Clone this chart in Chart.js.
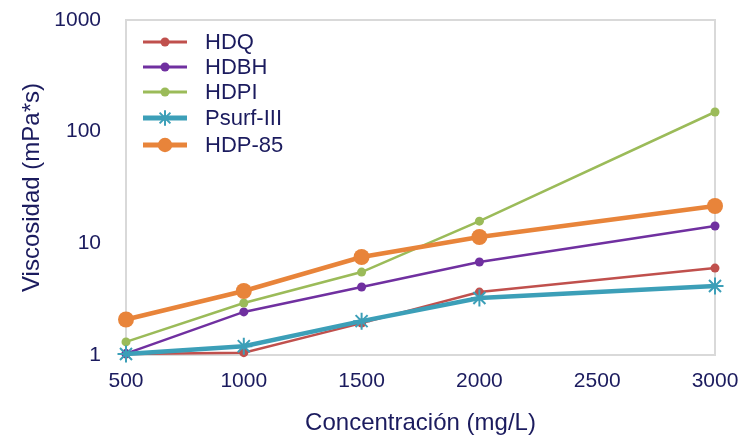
<!DOCTYPE html>
<html>
<head>
<meta charset="utf-8">
<script src="https://cdn.jsdelivr.net/npm/chart.js@4/dist/chart.umd.min.js"></script>
<style>
  html, body { margin: 0; padding: 0; background: #ffffff; }
  #wrap { width: 741px; height: 438px; }
</style>
</head>
<body>
<div id="wrap"><canvas id="c" width="741" height="438"></canvas></div>
<script>
// Concentration (mg/L) at which viscosity was measured
const concentrations = [500, 1000, 1500, 2000, 3000];

// Viscosity (mPa*s) per surfactant
const hdq     = [1.02, 1.05, 1.93, 3.66, 6.0];
const hdbh    = [1.03, 2.43, 4.06, 6.8, 14.3];
const hdpi    = [1.31, 2.92, 5.53, 15.8, 150];
const psurf   = [1.02, 1.2, 2.01, 3.24, 4.15];
const hdp85   = [2.08, 3.74, 7.54, 11.4, 21.6];

const seriesNames = ['HDQ', 'HDBH', 'HDPI', 'Psurf-III', 'HDP-85'];
const yTickValues = [1, 10, 100, 1000];
const xTickStep = 500;

const TEXT = '#1b1b5e';
const FONT = "'Liberation Sans', Arial, sans-serif";

const toPoints = arr => arr.map((v, i) => ({ x: concentrations[i], y: v }));

const styles = [
  { color: '#c0504d', width: 2.5, radius: 4.5, style: 'circle' },
  { color: '#7030a0', width: 2.5, radius: 4.5, style: 'circle' },
  { color: '#9bbb59', width: 2.5, radius: 4.5, style: 'circle' },
  { color: '#3c9fb8', width: 4.5, radius: 8.5, style: 'star' },
  { color: '#e8843a', width: 4.5, radius: 8,   style: 'circle' }
];
const values = [hdq, hdbh, hdpi, psurf, hdp85];

const datasets = values.map((vals, i) => {
  const s = styles[i];
  return {
    label: seriesNames[i],
    data: toPoints(vals),
    borderColor: s.color,
    backgroundColor: s.color,
    borderWidth: s.width,
    pointStyle: s.style,
    pointRadius: s.radius,
    pointHoverRadius: s.radius,
    pointBorderWidth: s.style === 'star' ? 2 : 0,
    pointBorderColor: s.color,
    pointBackgroundColor: s.color,
    tension: 0,
    clip: false,
    order: values.length - i
  };
});

// Light grey frame around the plotting area
const framePlugin = {
  id: 'frame',
  beforeDatasetsDraw(chart) {
    const { ctx, chartArea: a } = chart;
    ctx.save();
    ctx.strokeStyle = '#d9d9d9';
    ctx.lineWidth = 2;
    ctx.strokeRect(a.left, a.top, a.right - a.left, a.bottom - a.top);
    ctx.restore();
  }
};

// Legend drawn inside the plotting area, top-left corner
const insideLegend = {
  id: 'insideLegend',
  afterDatasetsDraw(chart) {
    const { ctx, chartArea: a } = chart;
    const rowY = [22, 47, 72, 98, 125];
    const x0 = a.left + 17, x1 = a.left + 61, xm = (x0 + x1) / 2;
    ctx.save();
    chart.data.datasets.forEach((ds, i) => {
      const y = a.top + rowY[i];
      ctx.strokeStyle = ds.borderColor;
      ctx.fillStyle = ds.backgroundColor;
      ctx.lineWidth = ds.borderWidth + 0.5;
      ctx.lineCap = 'butt';
      ctx.beginPath();
      ctx.moveTo(x0, y);
      ctx.lineTo(x1, y);
      ctx.stroke();
      const star = ds.pointStyle === 'star';
      ctx.lineWidth = star ? 2 : 0;
      Chart.helpers.drawPoint(ctx, {
        pointStyle: ds.pointStyle,
        rotation: 0,
        radius: ds.pointRadius * (ds.pointRadius > 6 ? 0.9 : 1),
        borderWidth: star ? 2 : 0
      }, xm, y);
      ctx.fillStyle = TEXT;
      ctx.font = "22px " + FONT;
      ctx.textBaseline = 'middle';
      ctx.textAlign = 'left';
      ctx.fillText(ds.label, a.left + 79, y + 1);
    });
    ctx.restore();
  }
};

new Chart(document.getElementById('c'), {
  type: 'line',
  data: { datasets },
  options: {
    responsive: false,
    animation: false,
    layout: { padding: { top: 20, right: 26, left: 0, bottom: 0 } },
    plugins: {
      legend: { display: false },
      tooltip: { enabled: false }
    },
    scales: {
      x: {
        type: 'linear',
        min: 500,
        max: 3000,
        grid: { display: false, drawTicks: true, tickLength: 14 },
        border: { display: false },
        ticks: {
          stepSize: xTickStep,
          color: TEXT,
          font: { family: FONT, size: 21 },
          padding: 0,
          maxRotation: 0,
          autoSkip: false,
          callback: v => String(v)
        },
        title: {
          display: true,
          text: 'Concentración (mg/L)',
          color: TEXT,
          font: { family: FONT, size: 24 },
          padding: { top: 0, bottom: 0 }
        },
        afterFit(scale) { scale.height = 83; }
      },
      y: {
        type: 'logarithmic',
        min: 1,
        max: 1000,
        grid: { display: false, drawTicks: true, tickLength: 25 },
        border: { display: false },
        afterBuildTicks(scale) {
          scale.ticks = yTickValues.map(v => ({ value: v }));
        },
        ticks: {
          color: TEXT,
          font: { family: FONT, size: 21 },
          padding: 0,
          autoSkip: false,
          callback: v => String(v)
        },
        title: {
          display: true,
          text: 'Viscosidad (mPa*s)',
          color: TEXT,
          font: { family: FONT, size: 24 },
          padding: { top: 18, bottom: 0 }
        },
        afterFit(scale) { scale.width = 126; }
      }
    }
  },
  plugins: [framePlugin, insideLegend]
});
</script>
</body>
</html>
